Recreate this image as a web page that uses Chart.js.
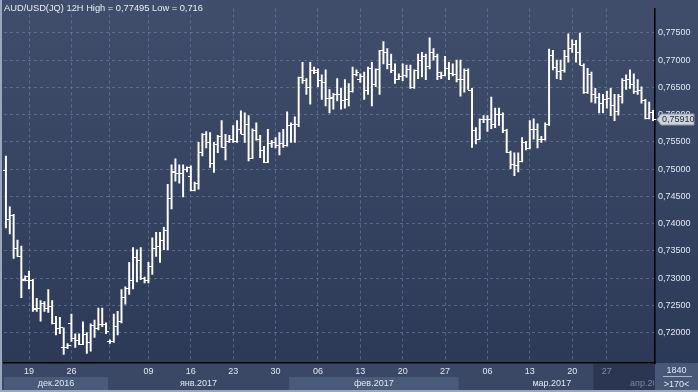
<!DOCTYPE html>
<html>
<head>
<meta charset="utf-8">
<script src="https://cdn.jsdelivr.net/npm/chart.js@4.4.1/dist/chart.umd.min.js"></script>
<style>
  html, body { margin: 0; padding: 0; background: #2e3b58; }
  #wrap { width: 698px; height: 392px; position: relative; }
</style>
</head>
<body>
<div id="wrap"><canvas id="chart"></canvas></div>
<script>
// AUD/USD 12H bars
const openP = [
  0.7499,0.7408,0.7415,0.7356,0.7341,0.7298,0.7297,0.7297,0.7245,0.7245,
  0.7255,0.7246,0.7248,0.7218,0.7209,0.7173,0.7173,0.7218,0.7191,0.7187,
  0.7180,0.7198,0.7182,0.7214,0.7209,0.7216,0.7216,0.7184,0.7184,0.7212,
  0.7221,0.7266,0.7282,0.7297,0.7338,0.7334,0.7300,0.7297,0.7322,0.7356,
  0.7359,0.7370,0.7388,0.7447,0.7495,0.7492,0.7492,0.7501,0.7487,0.7461,
  0.7474,0.7531,0.7564,0.7549,0.7512,0.7546,0.7560,0.7540,0.7551,0.7556,
  0.7551,0.7573,0.7565,0.7583,0.7521,0.7571,0.7556,0.7535,0.7513,0.7548,
  0.7549,0.7544,0.7548,0.7544,0.7580,0.7583,0.7583,0.7669,0.7664,0.7651,
  0.7682,0.7678,0.7664,0.7659,0.7630,0.7632,0.7637,0.7637,0.7626,0.7628,
  0.7643,0.7675,0.7666,0.7671,0.7646,0.7685,0.7657,0.7684,0.7718,0.7714,
  0.7693,0.7682,0.7666,0.7671,0.7673,0.7684,0.7651,0.7682,0.7700,0.7707,
  0.7689,0.7714,0.7707,0.7671,0.7673,0.7685,0.7677,0.7675,0.7666,0.7666,
  0.7682,0.7646,0.7571,0.7556,0.7591,0.7592,0.7592,0.7583,0.7601,0.7601,
  0.7571,0.7531,0.7510,0.7508,0.7515,0.7549,0.7539,0.7573,0.7574,0.7555,
  0.7556,0.7583,0.7709,0.7687,0.7680,0.7682,0.7707,0.7723,0.7730,0.7714,
  0.7691,0.7641,0.7675,0.7637,0.7632,0.7621,0.7628,0.7630,0.7617,0.7607,
  0.7634,0.7664,0.7666,0.7657,0.7644,0.7646,0.7626,0.7594,0.7605
];
const highP = [
  0.7524,0.7431,0.7417,0.7370,0.7359,0.7304,0.7313,0.7298,0.7263,0.7259,
  0.7257,0.7279,0.7259,0.7230,0.7228,0.7209,0.7180,0.7234,0.7198,0.7198,
  0.7220,0.7200,0.7216,0.7223,0.7245,0.7245,0.7218,0.7187,0.7234,0.7239,
  0.7279,0.7284,0.7329,0.7356,0.7352,0.7356,0.7302,0.7329,0.7374,0.7384,
  0.7384,0.7393,0.7472,0.7508,0.7519,0.7508,0.7508,0.7504,0.7506,0.7476,
  0.7549,0.7565,0.7569,0.7567,0.7549,0.7562,0.7589,0.7564,0.7562,0.7580,
  0.7589,0.7607,0.7603,0.7598,0.7574,0.7585,0.7562,0.7542,0.7573,0.7553,
  0.7558,0.7567,0.7573,0.7605,0.7585,0.7596,0.7669,0.7696,0.7666,0.7696,
  0.7687,0.7684,0.7673,0.7682,0.7646,0.7639,0.7666,0.7648,0.7664,0.7657,
  0.7687,0.7682,0.7675,0.7678,0.7687,0.7696,0.7684,0.7718,0.7734,0.7721,
  0.7711,0.7693,0.7675,0.7693,0.7691,0.7691,0.7682,0.7711,0.7714,0.7711,
  0.7741,0.7721,0.7711,0.7678,0.7707,0.7696,0.7693,0.7700,0.7700,0.7684,
  0.7684,0.7648,0.7576,0.7592,0.7598,0.7598,0.7632,0.7612,0.7612,0.7603,
  0.7573,0.7533,0.7530,0.7530,0.7558,0.7551,0.7589,0.7592,0.7583,0.7560,
  0.7585,0.7720,0.7718,0.7700,0.7700,0.7718,0.7748,0.7737,0.7736,0.77495,
  0.7693,0.7685,0.7678,0.7648,0.7639,0.7637,0.7643,0.7648,0.7637,0.7637,
  0.7666,0.7673,0.7682,0.7675,0.7664,0.7651,0.7628,0.7623,0.7608
];
const lowP = [
  0.7392,0.7381,0.7336,0.7340,0.7264,0.7295,0.7280,0.7239,0.7239,0.7221,
  0.7239,0.7237,0.7216,0.7196,0.7198,0.7160,0.7171,0.7184,0.7173,0.7178,
  0.7178,0.7162,0.7166,0.7191,0.7205,0.7211,0.7198,0.7180,0.7182,0.7196,
  0.7218,0.7252,0.7270,0.7280,0.7293,0.7297,0.7291,0.7291,0.7307,0.7340,
  0.7329,0.7352,0.7352,0.7427,0.7478,0.7474,0.7449,0.7495,0.7460,0.7460,
  0.7463,0.7524,0.7539,0.7503,0.7494,0.7530,0.7540,0.7517,0.7549,0.7549,
  0.7549,0.7565,0.7549,0.7515,0.7519,0.7553,0.7521,0.7512,0.7512,0.7540,
  0.7539,0.7526,0.7540,0.7542,0.7549,0.7549,0.7578,0.7657,0.7637,0.7619,
  0.7675,0.7651,0.7628,0.7616,0.7603,0.7610,0.7625,0.7610,0.7612,0.7616,
  0.7641,0.7671,0.7659,0.7628,0.7637,0.7616,0.7651,0.7637,0.7693,0.7684,
  0.7677,0.7657,0.7664,0.7662,0.7668,0.7648,0.7648,0.7666,0.7669,0.7664,
  0.7684,0.7700,0.7664,0.7666,0.7671,0.7664,0.7671,0.7660,0.7634,0.7641,
  0.7646,0.7540,0.7546,0.7555,0.7585,0.7569,0.7574,0.7576,0.7580,0.7567,
  0.7530,0.7501,0.7488,0.7495,0.7513,0.7535,0.7537,0.7555,0.7539,0.7549,
  0.7553,0.7580,0.7682,0.7666,0.7664,0.7678,0.7696,0.7714,0.7696,0.7691,
  0.7639,0.7639,0.7623,0.7621,0.7603,0.7603,0.7612,0.7598,0.7589,0.7599,
  0.7621,0.7646,0.7648,0.7639,0.7637,0.7621,0.7592,0.7592,0.7589
];
const closeP = [
  0.7408,0.7415,0.7356,0.7341,0.7297,0.7304,0.7297,0.7243,0.7245,0.7255,
  0.7246,0.7248,0.7218,0.7209,0.7211,0.7173,0.7178,0.7191,0.7187,0.7180,
  0.7198,0.7182,0.7214,0.7209,0.7216,0.7216,0.7203,0.7184,0.7212,0.7221,
  0.7266,0.7282,0.7297,0.7338,0.7334,0.7300,0.7297,0.7322,0.7356,0.7359,
  0.7370,0.7388,0.7447,0.7497,0.7492,0.7492,0.7501,0.7503,0.7461,0.7474,
  0.7531,0.7564,0.7549,0.7512,0.7546,0.7560,0.7540,0.7551,0.7556,0.7551,
  0.7573,0.7565,0.7583,0.7521,0.7571,0.7556,0.7535,0.7513,0.7548,0.7549,
  0.7544,0.7548,0.7544,0.7580,0.7583,0.7583,0.7669,0.7664,0.7651,0.7682,
  0.7682,0.7664,0.7659,0.7630,0.7630,0.7637,0.7637,0.7626,0.7628,0.7643,
  0.7675,0.7678,0.7671,0.7646,0.7685,0.7657,0.7684,0.7718,0.7714,0.7693,
  0.7682,0.7666,0.7671,0.7673,0.7684,0.7651,0.7682,0.7700,0.7707,0.7689,
  0.7714,0.7707,0.7678,0.7673,0.7685,0.7677,0.7675,0.7666,0.7666,0.7682,
  0.7646,0.7571,0.7556,0.7591,0.7592,0.7592,0.7583,0.7601,0.7601,0.7571,
  0.7531,0.7510,0.7508,0.7515,0.7549,0.7539,0.7573,0.7574,0.7555,0.7556,
  0.7583,0.7709,0.7687,0.7680,0.7682,0.7707,0.7723,0.7730,0.7714,0.7691,
  0.7641,0.7675,0.7637,0.7632,0.7621,0.7628,0.7630,0.7617,0.7607,0.7634,
  0.7664,0.7666,0.7657,0.7644,0.7646,0.7626,0.7594,0.7605,0.7591
];

// week ticks on the time axis (bar index -> day label)
const tickIndex = [6, 17, 27, 37, 48, 59, 70, 81, 92, 103, 114, 125, 136, 147, 156];
const tickText  = ['19', '26', '', '09', '16', '23', '30', '06', '13', '20', '27', '06', '13', '20', '27'];
// months (first bar index of each)
const monthStart = [0, 27, 74, 118];
const monthText  = ['дек.2016', 'янв.2017', 'фев.2017', 'мар.2017'];
const yTicks = [0.720, 0.725, 0.730, 0.735, 0.740, 0.745, 0.750, 0.755, 0.760, 0.765, 0.770, 0.775];

const titleText = 'AUD/USD(JQ) 12H High = 0,77495 Low = 0,716';
const cornerText = ['1840', '>170<'];
const FONT = '"Liberation Sans", Arial, sans-serif';
const labelColor = '#dfe7f3';
const gridColor = 'rgba(118,136,170,0.55)';

const fmt = v => v.toFixed(5).replace('.', ',');

// backgrounds, month band, frame
const backdrop = {
    id: 'backdrop',
    beforeDraw(chart) {
        const { ctx, width, height, chartArea: ca, scales: { x } } = chart;
        ctx.save();
        const g = ctx.createLinearGradient(0, 0, 0, ca.bottom);
        g.addColorStop(0, '#404e6b');
        g.addColorStop(1, '#2d3a57');
        ctx.fillStyle = g;
        ctx.fillRect(0, 0, width, ca.bottom);

        // bottom axis strip
        ctx.fillStyle = '#3a4866';
        ctx.fillRect(0, ca.bottom, ca.right, height - ca.bottom);

        const step = x.getPixelForValue(1) - x.getPixelForValue(0);
        const edge = i => x.getPixelForValue(i) - step / 2;
        const bandTop = ca.bottom + 14, bandH = height - ca.bottom - 16;
        ctx.font = '9px ' + FONT;
        ctx.textBaseline = 'middle';
        ctx.textAlign = 'center';
        monthStart.forEach((s, m) => {
            const x0 = edge(s);
            const x1 = m + 1 < monthStart.length ? edge(monthStart[m + 1]) : ca.right - 10;
            if (m % 2 === 0) {
                ctx.fillStyle = '#4b5a79';
                ctx.fillRect(x0, bandTop, x1 - x0, bandH);
            }
            ctx.fillStyle = labelColor;
            ctx.fillText(monthText[m], (x0 + x1) / 2, bandTop + bandH / 2 + 0.5);
        });

        // darker tail of the time axis
        const dk = edge(153);
        ctx.fillStyle = '#2b3652';
        ctx.fillRect(dk, ca.bottom + 1, ca.right - dk, height - ca.bottom - 3);
        ctx.save();
        ctx.beginPath();
        ctx.rect(dk, ca.bottom, ca.right - dk - 1, height - ca.bottom);
        ctx.clip();
        ctx.fillStyle = '#7d89a2';
        ctx.textAlign = 'left';
        ctx.fillText('апр.2017', ca.right - 25, bandTop + bandH / 2 + 0.5);
        ctx.restore();

        // corner box under the price axis
        ctx.fillStyle = '#4a5878';
        ctx.fillRect(ca.right, ca.bottom, width - ca.right, height - ca.bottom);
        ctx.strokeStyle = '#aab4c6';
        ctx.lineWidth = 1;
        ctx.beginPath();
        ctx.moveTo(ca.right + 8, ca.bottom + 13.5);
        ctx.lineTo(width - 6, ca.bottom + 13.5);
        ctx.stroke();
        ctx.fillStyle = labelColor;
        ctx.textAlign = 'center';
        const cx = (ca.right + width) / 2;
        ctx.fillText(cornerText[0], cx, ca.bottom + 7.5);
        ctx.fillText(cornerText[1], cx, ca.bottom + 21.5);

        // light frame left and bottom
        ctx.fillStyle = '#9ba7ba';
        ctx.fillRect(0, 0, 2, height);
        ctx.fillRect(0, height - 2, width, 2);
        ctx.restore();
    },
    afterDatasetsDraw(chart) {
        const { ctx, scales: { x, y } } = chart;
        ctx.save();
        ctx.strokeStyle = '#ffffff';
        ctx.lineWidth = 1;
        ctx.beginPath();
        openP.forEach((o, i) => {
            const px = Math.round(x.getPixelForValue(i));
            const yo = Math.round(y.getPixelForValue(o)) + 0.5;
            const yc = Math.round(y.getPixelForValue(closeP[i])) + 0.5;
            ctx.moveTo(px - 3, yo); ctx.lineTo(px, yo);
            ctx.moveTo(px, yc); ctx.lineTo(px + 3, yc);
        });
        ctx.stroke();
        ctx.restore();
    },
    afterDraw(chart) {
        const { ctx, chartArea: ca, scales: { y } } = chart;
        ctx.save();
        ctx.font = '9.3px ' + FONT;
        ctx.fillStyle = '#e8edf5';
        ctx.textBaseline = 'middle';
        ctx.textAlign = 'left';
        ctx.fillText(titleText, 4, 8.5);

        // last price tag
        const last = closeP[closeP.length - 1];
        const ty = Math.round(y.getPixelForValue(last)) + 0.5;
        const l = ca.right + 2, r = 694;
        ctx.beginPath();
        ctx.moveTo(l, ty);
        ctx.lineTo(l + 4, ty - 5.5);
        ctx.lineTo(r, ty - 5.5);
        ctx.lineTo(r, ty + 5.5);
        ctx.lineTo(l + 4, ty + 5.5);
        ctx.closePath();
        ctx.fillStyle = '#cfd3d9';
        ctx.fill();
        ctx.strokeStyle = '#8e97a6';
        ctx.lineWidth = 1;
        ctx.stroke();
        ctx.fillStyle = '#26303f';
        ctx.font = '9px ' + FONT;
        ctx.fillText(fmt(last), l + 5, ty + 0.5);
        ctx.restore();
    }
};

new Chart(document.getElementById('chart'), {
    type: 'bar',
    data: {
        labels: openP.map((_, i) => String(i)),
        datasets: [{
            label: 'AUD/USD',
            data: highP.map((h, i) => [lowP[i], h]),
            backgroundColor: '#ffffff',
            borderWidth: 0,
            barThickness: 1.3,
            grouped: false
        }]
    },
    options: {
        responsive: true,
        maintainAspectRatio: false,
        animation: false,
        events: [],
        layout: { padding: { left: 4, top: 0, right: 0, bottom: 0 } },
        plugins: { legend: { display: false }, tooltip: { enabled: false }, title: { display: false } },
        scales: {
            x: {
                type: 'category',
                offset: true,
                afterBuildTicks: s => { s.ticks = tickIndex.map(v => ({ value: v })); },
                afterFit: s => { s.height = 29; },
                grid: { offset: false, color: gridColor, lineWidth: 1, drawTicks: false },
                border: { color: '#000000', width: 1.5, dash: [3, 3] },
                ticks: {
                    autoSkip: false,
                    maxRotation: 0,
                    padding: 3,
                    font: { family: FONT, size: 9 },
                    color: c => (c.index === tickIndex.length - 1 ? '#7d89a2' : labelColor),
                    callback: (v, i) => tickText[i]
                }
            },
            y: {
                position: 'right',
                min: 0.71443,
                max: 0.77948,
                afterBuildTicks: s => { s.ticks = yTicks.map(v => ({ value: v })); },
                afterFit: s => { s.width = 43; },
                grid: { color: gridColor, lineWidth: 1, drawTicks: false },
                border: { color: '#000000', width: 1.5, dash: [3, 3] },
                ticks: {
                    padding: 3,
                    font: { family: FONT, size: 9 },
                    color: labelColor,
                    callback: v => fmt(v)
                }
            }
        }
    },
    plugins: [backdrop]
});
</script>
</body>
</html>
